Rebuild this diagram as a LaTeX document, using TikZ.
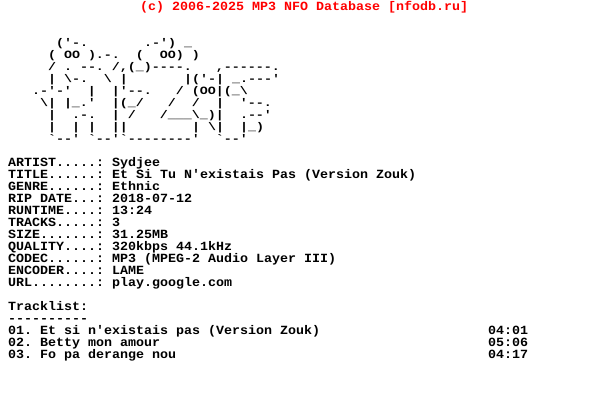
\documentclass[tikz,border=0pt]{standalone}
\usepackage{fontspec}
\usepackage{xcolor}
\newfontfamily\nfofont[FakeStretch=1.0667]{Liberation Mono}
\newfontfamily\nfoartfont[FakeStretch=1.2]{Liberation Mono}
\definecolor{nfored}{HTML}{FF0000}
\newcommand{\bs}{\textbackslash}
\tikzset{
  basic/.style  = {inner sep=0pt, outer sep=0pt, anchor=base west, text=black,
                   font=\fontsize{12.5bp}{12bp}\nfofont\bfseries},
  art/.style    = {basic, font=\fontsize{11.11bp}{12bp}\nfoartfont\bfseries},
  info/.style   = {basic},
  track/.style  = {basic},
  banner/.style = {basic, text=nfored}
}
\begin{document}
\begin{tikzpicture}[x=1bp,y=-1bp]
      \useasboundingbox (0,0) rectangle (608,408);
      \node[banner] (head) at (140,10) {(c) 2006-2025 MP3 NFO Database [nfodb.ru]};

      \node[art] (art1) at (0,46)  {~~~~~~~('-.~~~~~~~.-')~\_};
      \node[art] (art2) at (0,58)  {~~~~~~(~OO~).-.~~(~~OO)~)};
      \node[art] (art3) at (0,70)  {~~~~~~/~.~--.~/,(\_)----.~~~,------.};
      \node[art] (art4) at (0,82)  {~~~~~~|~\bs-.~~\bs~|~~~~~~~|('-|~\_.---'};
      \node[art] (art5) at (0,94)  {~~~~.-'-'~~|~~|'--.~~~/~(OO|(\_\bs};
      \node[art] (art6) at (0,106) {~~~~~\bs|~|\_.'~~|(\_/~~~/~~/~~|~~'--.};
      \node[art] (art7) at (0,118) {~~~~~~|~~.-.~~|~/~~~/\_\_\_\bs\_)|~~.--'};
      \node[art] (art8) at (0,130) {~~~~~~|~~|~|~~||~~~~~~~~|~\bs|~~|\_)};
      \node[art] (art9) at (0,142) {~~~~~~`--'~`--'`--------'~~`--'};

      \node[info] (artist)  at (8,166) {ARTIST.....:~Sydjee};
      \node[info] (title)   at (8,178) {TITLE......:~Et~Si~Tu~N'existais~Pas~(Version~Zouk)};
      \node[info] (genre)   at (8,190) {GENRE......:~Ethnic};
      \node[info] (ripdate) at (8,202) {RIP~DATE...:~2018-07-12};
      \node[info] (runtime) at (8,214) {RUNTIME....:~13:24};
      \node[info] (tracks)  at (8,226) {TRACKS.....:~3};
      \node[info] (size)    at (8,238) {SIZE.......:~31.25MB};
      \node[info] (quality) at (8,250) {QUALITY....:~320kbps~44.1kHz};
      \node[info] (codec)   at (8,262) {CODEC......:~MP3~(MPEG-2~Audio~Layer~III)};
      \node[info] (encoder) at (8,274) {ENCODER....:~LAME};
      \node[info] (url)     at (8,286) {URL........:~play.google.com};

      \node[track] (list)   at (8,310) {Tracklist:};
      \node[track] (rule)   at (8,322) {----------};
      \node[track] (one)    at (8,334) {01.~Et~si~n'existais~pas~(Version~Zouk)};
      \node[track] (two)    at (8,346) {02.~Betty~mon~amour};
      \node[track] (three)  at (8,358) {03.~Fo~pa~derange~nou};
      \node[track] (oneT)   at (488,334) {04:01};
      \node[track] (twoT)   at (488,346) {05:06};
      \node[track] (threeT) at (488,358) {04:17};
    \end{tikzpicture}
\end{document}
